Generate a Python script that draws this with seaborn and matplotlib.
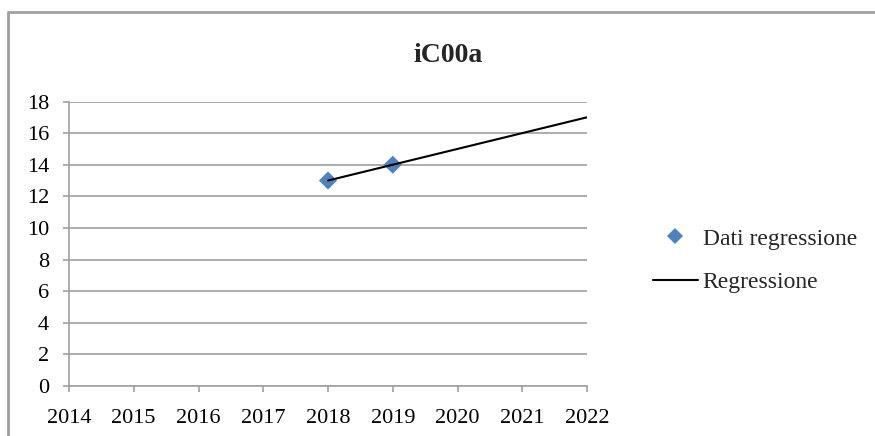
import numpy as np
import pandas as pd
import matplotlib
matplotlib.use("Agg")
import matplotlib.pyplot as plt
import seaborn as sns
from matplotlib.lines import Line2D

# dati
anni_dati = [2018, 2019]
valori_dati = [13, 14]
anni_regr = [2018, 2022]
valori_regr = [13, 17]
x_ticks = [2014, 2015, 2016, 2017, 2018, 2019, 2020, 2021, 2022]
y_ticks = [0, 2, 4, 6, 8, 10, 12, 14, 16, 18]
titolo = "iC00a"

sns.set_style("white")
plt.rcParams['font.family'] = ['Liberation Serif', 'DejaVu Serif']

grigio = "#a0a0a0"
blu = "#4F81BD"

fig = plt.figure(figsize=(8.75, 4.36), dpi=100)
ax = fig.add_axes([69 / 875, 1 - 386 / 436, (587 - 69) / 875, (386 - 101.5) / 436])

df_dati = pd.DataFrame({"anno": anni_dati, "valore": valori_dati})
df_regr = pd.DataFrame({"anno": anni_regr, "valore": valori_regr})

sns.lineplot(data=df_regr, x="anno", y="valore", ax=ax, color="black",
             linewidth=1.5, label="Regressione", zorder=4)
sns.scatterplot(data=df_dati, x="anno", y="valore", ax=ax, color=blu,
                marker="D", s=85, edgecolor="none", label="Dati regressione", zorder=3)

ax.set_xlim(2014, 2022)
ax.set_ylim(0, 18)
ax.set_xticks(x_ticks)
ax.set_yticks(y_ticks)
ax.set_xlabel("")
ax.set_ylabel("")
ax.yaxis.grid(True, color=grigio, linewidth=1.2)
ax.xaxis.grid(False)
ax.set_axisbelow(True)
for s in ["top", "right"]:
    ax.spines[s].set_visible(False)
for s in ["left", "bottom"]:
    ax.spines[s].set_color(grigio)
    ax.spines[s].set_linewidth(1.2)
ax.tick_params(axis="both", which="major", direction="out", length=4.5,
               width=1.2, color=grigio, labelsize=16, pad=10, labelcolor="black")
ax.tick_params(axis="x", bottom=True, pad=12)
ax.tick_params(axis="y", left=True)

handles = [Line2D([], [], marker="D", color=blu, linestyle="none", markersize=8.5,
                  markeredgewidth=0),
           Line2D([], [], color="black", linewidth=1.5)]
ax.legend(handles, ["Dati regressione", "Regressione"], loc="upper left",
          bbox_to_anchor=(653 / 875, 1 - 228 / 436), bbox_transform=fig.transFigure,
          frameon=False, fontsize=17, handlelength=1.9, handletextpad=0.2,
          labelspacing=0.92, borderaxespad=0, borderpad=0)

fig.text(447.5 / 875, 1 - 62 / 436, titolo, ha="center", va="baseline",
         fontsize=20, fontweight="bold")

# cornice esterna stile Excel
fig.add_artist(Line2D([8 / 875, 1], [1 - 12 / 436, 1 - 12 / 436],
                      transform=fig.transFigure, color=grigio, linewidth=2))
fig.add_artist(Line2D([8 / 875, 8 / 875], [0, 1 - 12 / 436],
                      transform=fig.transFigure, color=grigio, linewidth=2))

fig.savefig("out.png", dpi=100)
